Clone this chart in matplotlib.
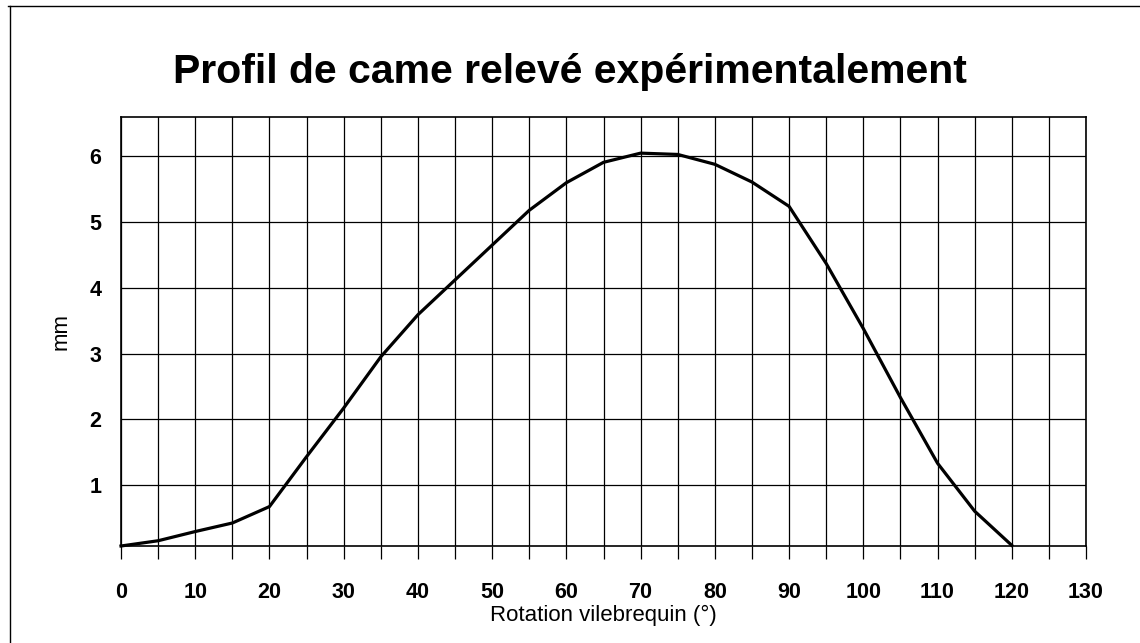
import matplotlib
matplotlib.use("Agg")
import matplotlib.pyplot as plt
from matplotlib.lines import Line2D
from matplotlib.ticker import MultipleLocator, FixedLocator

plt.rcParams['font.family'] = ['Liberation Sans', 'DejaVu Sans']

# Data
rotation_deg = [0, 5, 10, 15, 20, 25, 30, 35, 40, 45, 50, 55, 60, 65,
                70, 75, 80, 85, 90, 95, 100, 105, 110, 115, 120]
lift_mm = [0.07, 0.15, 0.29, 0.42, 0.67, 1.43, 2.17, 2.95, 3.59, 4.12,
           4.65, 5.18, 5.60, 5.91, 6.05, 6.03, 5.88, 5.61, 5.24, 4.37,
           3.38, 2.33, 1.33, 0.60, 0.08]
x_ticks = [0, 10, 20, 30, 40, 50, 60, 70, 80, 90, 100, 110, 120, 130]
y_ticks = [1, 2, 3, 4, 5, 6]

title = "Profil de came relevé expérimentalement"
xlabel = "Rotation vilebrequin (°)"
ylabel = "mm"

fig = plt.figure(figsize=(11.4, 6.43), dpi=100)
ax = fig.add_axes([121/1140, 1 - 546/643, (1086-121)/1140, (546-117)/643])

ax.plot(rotation_deg, lift_mm, color='black', lw=2.3, solid_joinstyle='round',
        clip_on=False, zorder=3)

ax.set_xlim(0, 130)
ax.set_ylim(0.07, 6.6)
ax.xaxis.set_major_locator(FixedLocator(x_ticks))
ax.xaxis.set_minor_locator(MultipleLocator(5))
ax.yaxis.set_major_locator(FixedLocator(y_ticks))

ax.grid(True, which='both', axis='x', color='black', lw=0.9)
ax.grid(True, which='major', axis='y', color='black', lw=0.9)
ax.set_axisbelow(True)

for s in ax.spines.values():
    s.set_color('black')
    s.set_linewidth(1.2)

ax.tick_params(axis='x', which='both', direction='out', length=9, width=0.9,
               color='black')
ax.tick_params(axis='x', which='major', pad=17, labelsize=15.5)
ax.tick_params(axis='y', which='both', length=0, pad=14, labelsize=15.5)
for lab in ax.get_xticklabels() + ax.get_yticklabels():
    lab.set_fontweight('bold')

ax.set_xlabel(xlabel, fontsize=16, labelpad=1)
ax.set_ylabel(ylabel, fontsize=16, labelpad=13)

fig.text(0.5, 1 - 72/643, title, ha='center', va='center',
         fontsize=29.5, fontweight='bold')

# outer frame lines (top and left) as in the scan
fig.add_artist(Line2D([8/1140, 1.0], [1 - 6/643, 1 - 6/643], color='black',
                      lw=1.0, transform=fig.transFigure))
fig.add_artist(Line2D([10/1140, 10/1140], [0.0, 1 - 6/643], color='black',
                      lw=1.0, transform=fig.transFigure))

fig.savefig("out.png", dpi=100)
